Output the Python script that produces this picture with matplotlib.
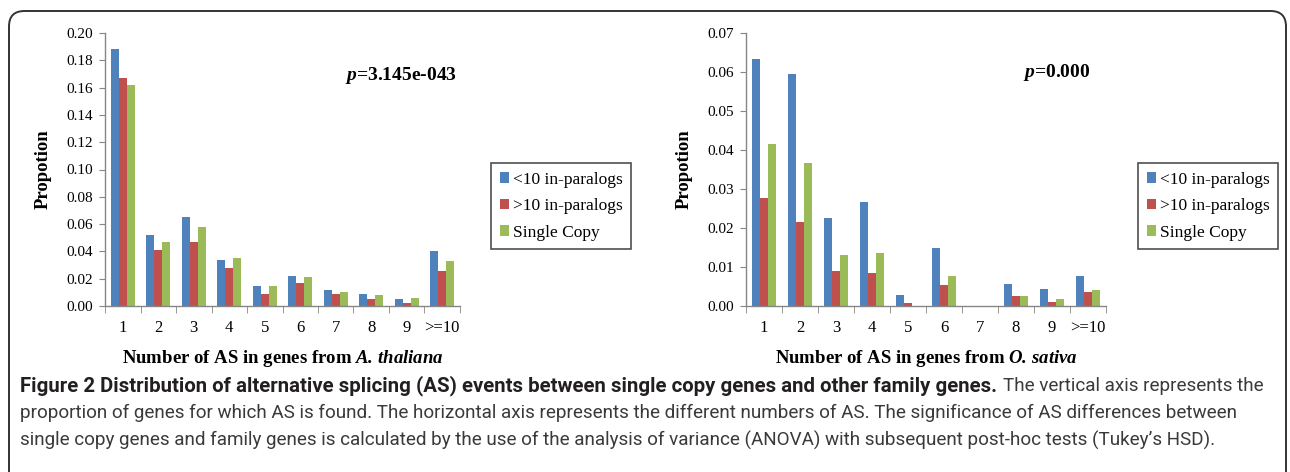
import matplotlib.pyplot as plt
from matplotlib.patches import FancyBboxPatch
import numpy as np

categories = ['1', '2', '3', '4', '5', '6', '7', '8', '9', '>=10']
series_names = ['<10 in-paralogs', '>10 in-paralogs', 'Single Copy']
colors = ['#4F81BD', '#C0504D', '#9BBB59']

# A. thaliana
ath_lt10 = [0.188, 0.052, 0.065, 0.034, 0.015, 0.022, 0.012, 0.009, 0.005, 0.040]
ath_gt10 = [0.167, 0.041, 0.047, 0.028, 0.009, 0.017, 0.009, 0.005, 0.002, 0.026]
ath_single = [0.162, 0.047, 0.058, 0.035, 0.015, 0.021, 0.010, 0.008, 0.006, 0.033]

# O. sativa
osa_lt10 = [0.0633, 0.0594, 0.0226, 0.0267, 0.0029, 0.0150, 0.0, 0.0057, 0.0043, 0.0078]
osa_gt10 = [0.0277, 0.0215, 0.0091, 0.0084, 0.0008, 0.0054, 0.0, 0.0025, 0.0011, 0.0036]
osa_single = [0.0415, 0.0367, 0.0132, 0.0136, 0.0, 0.0078, 0.0, 0.0025, 0.0017, 0.0040]

caption_bold = 'Figure 2 Distribution of alternative splicing (AS) events between single copy genes and other family genes.'
caption_lines = [
    'The vertical axis represents the',
    'proportion of genes for which AS is found. The horizontal axis represents the different numbers of AS. The significance of AS differences between',
    'single copy genes and family genes is calculated by the use of the analysis of variance (ANOVA) with subsequent post-hoc tests (Tukey\u2019s HSD).',
]

SERIF = ['Liberation Serif', 'DejaVu Serif']
SANS = ['Roboto', 'Liberation Sans', 'DejaVu Sans']

plt.rcParams['mathtext.fontset'] = 'custom'
plt.rcParams['mathtext.rm'] = 'Liberation Serif'
plt.rcParams['mathtext.it'] = 'Liberation Serif:italic'
plt.rcParams['mathtext.bf'] = 'Liberation Serif:bold'
plt.rcParams['mathtext.bfit'] = 'Liberation Serif:bold:italic'

W, H = 1290, 472
fig = plt.figure(figsize=(W / 100, H / 100), dpi=100)


def px_rect(x0, x1, ytop, ybot):
    return [x0 / W, 1 - ybot / H, (x1 - x0) / W, (ybot - ytop) / H]


def draw_panel(ax, data, ymax, ystep, p_text, p_xy, xlabel, species, leg_box):
    x = np.arange(len(categories))
    w = 0.23
    for i, vals in enumerate(data):
        ax.bar(x + (i - 1) * w, vals, width=w, color=colors[i],
               label=series_names[i], zorder=2)
    ax.set_xlim(-0.5, len(categories) - 0.5)
    ax.set_ylim(0, ymax)
    yt = np.arange(0, ymax + ystep / 2, ystep)
    ax.set_yticks(yt)
    ax.set_yticklabels(['%.2f' % v for v in yt], fontfamily=SERIF, fontsize=11)
    ax.set_xticks(x)
    ax.set_xticklabels(categories, fontfamily=SERIF, fontsize=12)
    ax.set_xticks(np.arange(-0.5, len(categories)), minor=True)
    ax.tick_params(axis='x', which='major', length=0, pad=10)
    ax.tick_params(axis='x', which='minor', length=5, color='#868686',
                   direction='out')
    ax.tick_params(axis='y', length=4, color='#868686', direction='out', pad=5)
    for s in ['top', 'right']:
        ax.spines[s].set_visible(False)
    for s in ['left', 'bottom']:
        ax.spines[s].set_color('#868686')
        ax.spines[s].set_linewidth(1.0)
    ax.set_ylabel('Propotion', fontfamily=SERIF, fontsize=13.5,
                  fontweight='bold', labelpad=10)
    ax.set_xlabel(xlabel + r' $\mathbfit{' + species + '}$',
                  fontfamily=SERIF, fontsize=13.5, fontweight='bold', labelpad=9)
    ax.text(p_xy[0], p_xy[1], r'$\mathbfit{p}$=' + p_text,
            transform=ax.transAxes, fontfamily=SERIF, fontsize=14,
            fontweight='bold', ha='left', va='center')
    leg = ax.legend(loc='upper left', bbox_to_anchor=leg_box,
                    bbox_transform=fig.transFigure, frameon=True,
                    fancybox=False, edgecolor='#222222',
                    prop={'family': SERIF, 'size': 12.5},
                    handlelength=0.55, handleheight=0.55, handletextpad=0.2,
                    labelspacing=0.6, borderpad=0.5, borderaxespad=0)
    leg.get_frame().set_linewidth(1.2)


ax1 = fig.add_axes(px_rect(105, 460, 33, 306))
draw_panel(ax1, [ath_lt10, ath_gt10, ath_single], 0.20, 0.02, '3.145e-043',
           (0.675, 0.845), 'Number of AS in genes from', r'A.\,thaliana',
           (491 / W, 1 - 163 / H))

ax2 = fig.add_axes(px_rect(746, 1106, 33, 306))
draw_panel(ax2, [osa_lt10, osa_gt10, osa_single], 0.07, 0.01, '0.000',
           (0.77, 0.855), 'Number of AS in genes from', r'O.\,sativa',
           (1138 / W, 1 - 163 / H))

# outer frame with rounded top corners
frame = FancyBboxPatch((9 / W, -0.2), (1286 - 9) / W, (1.2 - 11 / H),
                       boxstyle='round,pad=0,rounding_size=0.012',
                       transform=fig.transFigure, fill=False,
                       edgecolor='#333333', linewidth=1.4, clip_on=False,
                       mutation_aspect=W / H)
fig.patches.append(frame)

# caption: size the fonts so the lines span the same widths as in the figure
renderer = fig.canvas.get_renderer()
cap_x = 20 / W


def fit_size(text, weight, target_px):
    probe = fig.text(0, 0, text, fontfamily=SANS, fontsize=12, fontweight=weight)
    pw = probe.get_window_extent(renderer).width
    probe.remove()
    return 12 * target_px / pw


cap_fs = fit_size(caption_lines[1], 'normal', 1215)
bold_fs = fit_size(caption_bold, 'bold', 975)
line_y = [386, 413, 440]

bold = fig.text(cap_x, 1 - line_y[0] / H, caption_bold, fontfamily=SANS,
                fontsize=bold_fs, fontweight='bold', color='#231f20',
                va='center', ha='left')
bb = bold.get_window_extent(renderer)
fig.text(bb.x1 / W + 6 / W, 1 - line_y[0] / H, caption_lines[0], fontfamily=SANS,
         fontsize=cap_fs, color='#3a3a3a', va='center', ha='left')
for k, line in enumerate(caption_lines[1:]):
    fig.text(cap_x, 1 - line_y[k + 1] / H, line, fontfamily=SANS,
             fontsize=cap_fs, color='#3a3a3a', va='center', ha='left')

fig.savefig('out.png', dpi=100)
